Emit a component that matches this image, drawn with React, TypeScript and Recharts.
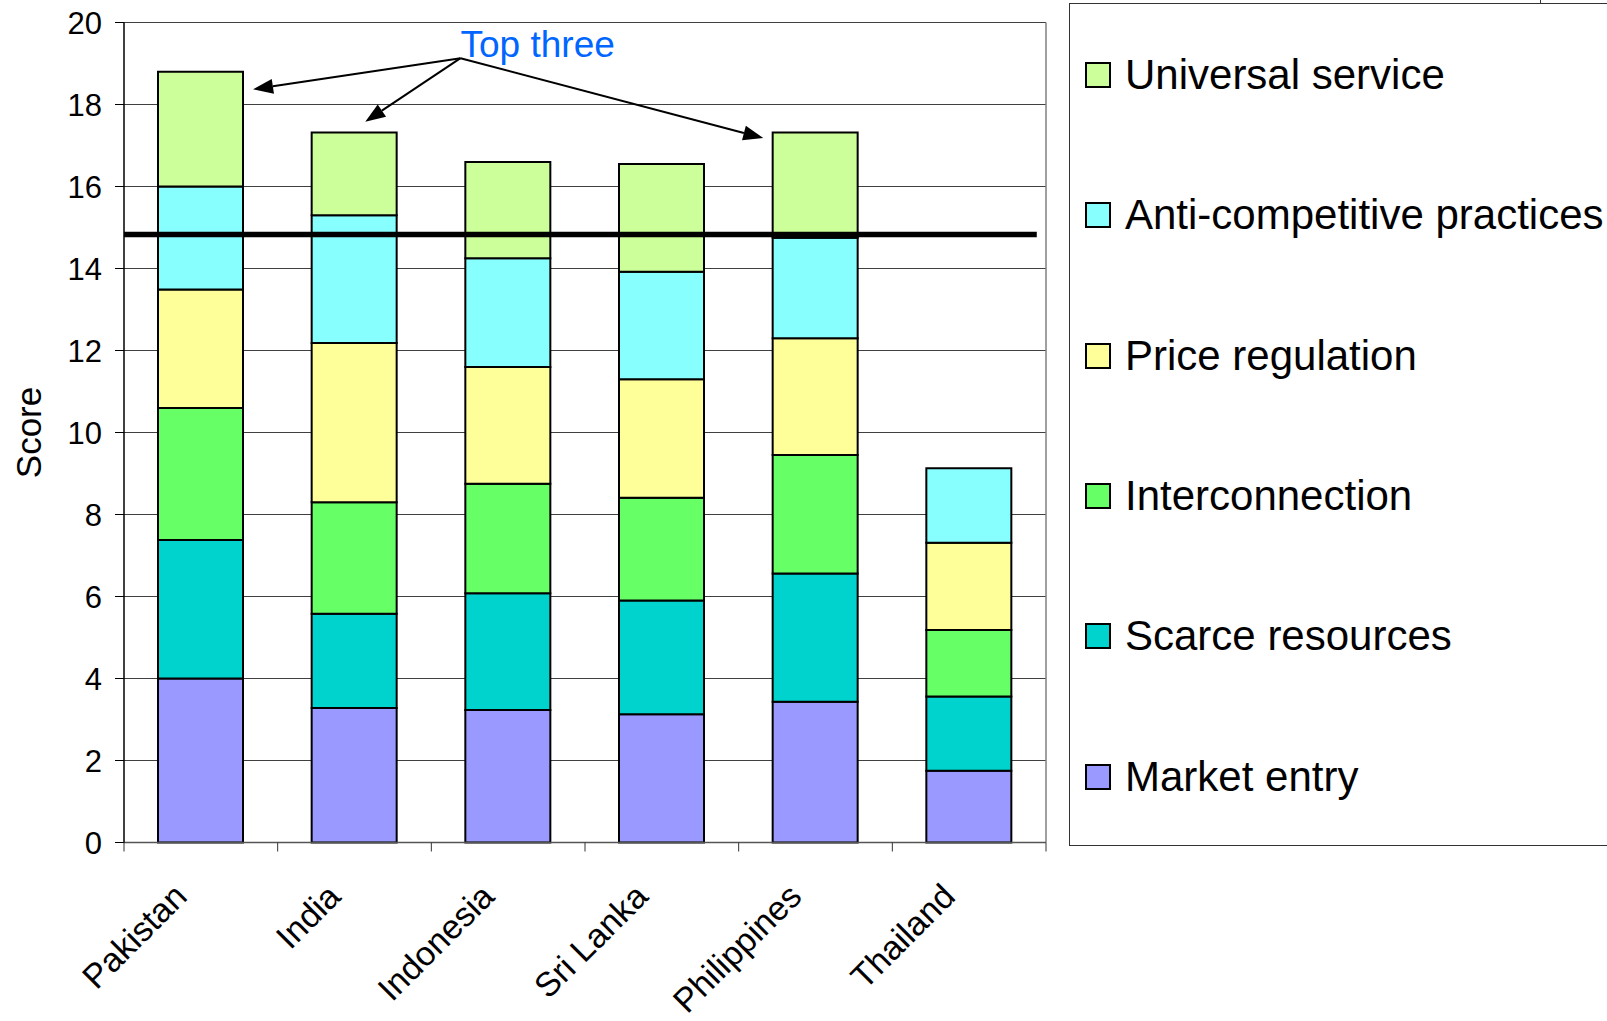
import React from "react";
import {
  BarChart,
  Bar,
  XAxis,
  YAxis,
  CartesianGrid,
  ReferenceLine,
  ReferenceDot,
} from "recharts";

const countries = ["Pakistan", "India", "Indonesia", "Sri Lanka", "Philippines", "Thailand"];
const marketEntry = [4.0, 3.28, 3.23, 3.13, 3.43, 1.75];
const scarceResources = [3.38, 2.3, 2.85, 2.77, 3.13, 1.81];
const interconnection = [3.22, 2.72, 2.67, 2.51, 2.89, 1.62];
const priceRegulation = [2.89, 3.88, 2.85, 2.89, 2.85, 2.13];
const antiCompetitive = [2.51, 3.12, 2.65, 2.62, 2.45, 1.82];
const universalService = [2.8, 2.02, 2.35, 2.63, 2.57, 0];

const yTicks = [0, 2, 4, 6, 8, 10, 12, 14, 16, 18, 20];
const threshold = 14.83;

// annotation positions in category units (0..6) on a hidden numeric axis
const calloutLabel = "Top three";
const calloutOrigin = { x: 2.19, y: 19.13 };
const calloutTips = [
  { x: 0.84, y: 18.37 },
  { x: 1.57, y: 17.58 },
  { x: 4.16, y: 17.18 },
];

const series = [
  { key: "me", name: "Market entry", color: "#9999FF", values: marketEntry },
  { key: "sr", name: "Scarce resources", color: "#00D2CD", values: scarceResources },
  { key: "ic", name: "Interconnection", color: "#66FF66", values: interconnection },
  { key: "pr", name: "Price regulation", color: "#FFFF99", values: priceRegulation },
  { key: "ac", name: "Anti-competitive practices", color: "#88FFFF", values: antiCompetitive },
  { key: "us", name: "Universal service", color: "#CCFF99", values: universalService },
];

// pos = centre of each category on the helper numeric axis
const rows = countries.map((country, i) => {
  const row: Record<string, string | number> = { country, pos: i + 0.5 };
  series.forEach((s) => {
    row[s.key] = s.values[i];
  });
  return row;
});

const FONT = "'Liberation Sans', Arial, sans-serif";

const CountryTick = (props: any) => {
  const { x, y, payload, index, visibleTicksCount } = props;
  const off = payload && payload.offset ? payload.offset : 76.8;
  const last = index === (visibleTicksCount ?? countries.length) - 1;
  return (
    <g>
      <line x1={x - off} y1={y} x2={x - off} y2={y + 9} stroke="#333" />
      {last && <line x1={x + off} y1={y} x2={x + off} y2={y + 9} stroke="#333" />}
      <g transform={`translate(${x - 12},${y + 56}) rotate(-45)`}>
        <text x={0} y={0} textAnchor="end" fontSize={34} fill="#000">
          {payload.value}
        </text>
      </g>
    </g>
  );
};

const arrowShape = (p: any) => {
  const { x1, y1, x2, y2 } = p;
  const a = Math.atan2(y2 - y1, x2 - x1);
  const len = 20;
  const half = 7.5;
  const bx = x2 - len * Math.cos(a);
  const by = y2 - len * Math.sin(a);
  const pts = [
    `${x2},${y2}`,
    `${bx - half * Math.sin(a)},${by + half * Math.cos(a)}`,
    `${bx + half * Math.sin(a)},${by - half * Math.cos(a)}`,
  ].join(" ");
  return (
    <g>
      <line x1={x1} y1={y1} x2={bx} y2={by} stroke="#000" strokeWidth={2} />
      <polygon points={pts} fill="#000" />
    </g>
  );
};

const calloutText = (p: any) => (
  <text x={p.cx} y={p.cy} textAnchor="start" fontSize={37} fill="#0066FF">
    {calloutLabel}
  </text>
);

const scoreLabel = (p: any) => {
  const vb = p.viewBox || { x: 0, y: 22.5, height: 820 };
  const cx = vb.x + 28;
  const cy = vb.y + vb.height / 2;
  return (
    <text
      x={cx}
      y={cy}
      transform={`rotate(-90, ${cx}, ${cy})`}
      textAnchor="middle"
      dominantBaseline="central"
      fontSize={35}
      fill="#000"
    >
      Score
    </text>
  );
};

function LegendBox() {
  const items = [...series].reverse();
  return (
    <div
      style={{
        position: "absolute",
        left: 1069,
        top: 3,
        width: 700,
        height: 843,
        border: "1px solid #333",
        boxSizing: "border-box",
      }}
    >
      {items.map((s, i) => (
        <div
          key={s.key}
          style={{
            position: "absolute",
            left: 15,
            top: 70.8 + i * 140.4 - 13,
            height: 26,
            display: "flex",
            alignItems: "center",
            whiteSpace: "nowrap",
          }}
        >
          <div
            style={{
              width: 26,
              height: 26,
              boxSizing: "border-box",
              border: "2px solid #000",
              background: s.color,
            }}
          />
          <span style={{ marginLeft: 14, fontSize: 42, lineHeight: "26px", color: "#000" }}>
            {s.name}
          </span>
        </div>
      ))}
    </div>
  );
}

export default function App() {
  return (
    <div
      style={{
        position: "absolute",
        left: 0,
        top: 0,
        width: 1607,
        height: 1021,
        overflow: "hidden",
        background: "#fff",
        fontFamily: FONT,
      }}
    >
      <BarChart
        width={1607}
        height={1021}
        data={rows}
        margin={{ top: 22.5, right: 561, bottom: 8.5, left: 0 }}
        barSize={85}
      >
        <CartesianGrid vertical={false} stroke="#404040" />
        <XAxis
          dataKey="country"
          interval={0}
          height={170}
          tick={<CountryTick />}
          tickLine={false}
          tickSize={0}
          tickMargin={0}
          axisLine={{ stroke: "#555", strokeWidth: 1.5 }}
        />
        <XAxis
          xAxisId="n"
          dataKey="pos"
          type="number"
          domain={[0, 6]}
          hide
          allowDataOverflow
        />
        <YAxis
          domain={[0, 20]}
          ticks={yTicks}
          interval={0}
          width={124}
          tickSize={9}
          tickMargin={13}
          tick={{ fontSize: 31, fill: "#000" }}
          tickLine={{ stroke: "#000" }}
          axisLine={{ stroke: "#000", strokeWidth: 1.5 }}
          label={scoreLabel}
        />
        {series.map((s) => (
          <Bar
            key={s.key}
            dataKey={s.key}
            name={s.name}
            stackId="total"
            fill={s.color}
            stroke="#000"
            strokeWidth={2}
            isAnimationActive={false}
          />
        ))}
        <ReferenceLine xAxisId="n" x={6} stroke="#808080" strokeWidth={1.5} />
        <ReferenceLine
          xAxisId="n"
          segment={[
            { x: 0, y: threshold },
            { x: 5.94, y: threshold },
          ]}
          stroke="#000"
          strokeWidth={5.5}
        />
        {calloutTips.map((t, i) => (
          <ReferenceLine
            key={i}
            xAxisId="n"
            segment={[calloutOrigin, t]}
            shape={arrowShape}
          />
        ))}
        <ReferenceDot
          xAxisId="n"
          x={calloutOrigin.x}
          y={19.17}
          r={0}
          shape={calloutText}
        />
      </BarChart>
      <LegendBox />
      <div
        style={{
          position: "absolute",
          left: 1540,
          top: 0,
          width: 1,
          height: 4,
          background: "#333",
        }}
      />
    </div>
  );
}
